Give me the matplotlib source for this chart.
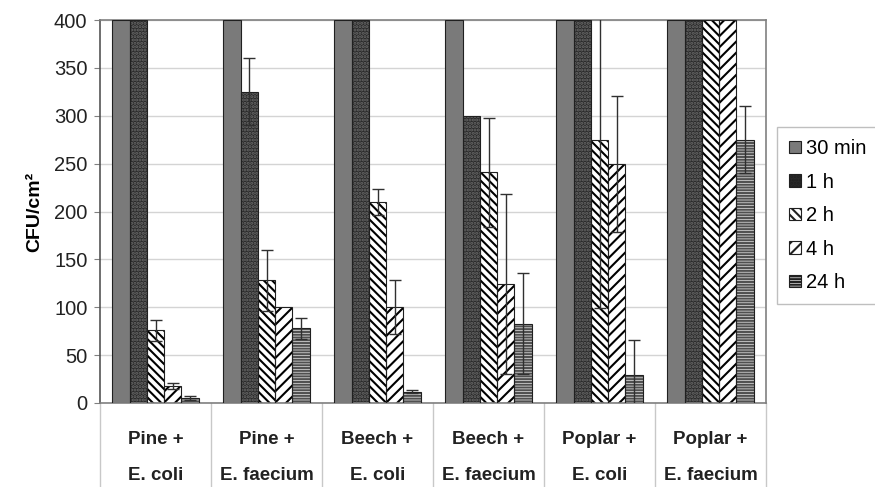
import numpy as np
import matplotlib
matplotlib.use("Agg")
import matplotlib.pyplot as plt
from matplotlib.patches import Patch
from matplotlib.lines import Line2D

plt.rcParams['font.family'] = ['Liberation Sans', 'DejaVu Sans']

categories = ["Pine +\n\nE. coli", "Pine +\n\nE. faecium", "Beech +\n\nE. coli",
              "Beech +\n\nE. faecium", "Poplar +\n\nE. coli", "Poplar +\n\nE. faecium"]
series_names = ["30 min", "1 h", "2 h", "4 h", "24 h"]
v30min = [400, 400, 400, 400, 400, 400]
v1h = [400, 325, 400, 300, 400, 400]
v2h = [76, 128, 210, 241, 275, 400]
v4h = [18, 100, 100, 124, 250, 400]
v24h = [5, 78, 12, 83, 29, 275]
e30min = [0, 0, 0, 0, 0, 0]
e1h = [0, 35, 0, 0, 0, 0]
e2h = [11, 32, 14, 57, 176, 0]
e4h = [3, 0, 28, 94, 71, 0]
e24h = [2, 11, 2, 53, 37, 35]
yticks = [0, 50, 100, 150, 200, 250, 300, 350, 400]

values = [v30min, v1h, v2h, v4h, v24h]
errors = [e30min, e1h, e2h, e4h, e24h]
styles = [
    dict(face='#7a7a7a', hatch=None, hcol='#7a7a7a'),
    dict(face='#2a2a2a', hatch='.....', hcol='#6a6a6a'),
    dict(face='white', hatch='\\\\\\\\', hcol='black'),
    dict(face='white', hatch='///', hcol='black'),
    dict(face='#e8e8e8', hatch='------', hcol='#505050'),
]

fig = plt.figure(figsize=(8.75, 4.87), dpi=100)
ax = fig.add_axes([100/875, 1-403/487, 666/875, 383/487])

n = len(categories)
x = np.arange(n)
bw = 0.156
plt.rcParams['hatch.linewidth'] = 1.5
for i, (vals, errs, st) in enumerate(zip(values, errors, styles)):
    xs = x + (i - 2) * bw
    ax.bar(xs, vals, width=bw, color=st['face'], edgecolor=st['hcol'],
           hatch=st['hatch'], linewidth=0, zorder=2)
    ax.bar(xs, vals, width=bw, fill=False, edgecolor='#202020', linewidth=0.8, zorder=3)
    ex = [xx for xx, e in zip(xs, errs) if e > 0]
    ey = [v for v, e in zip(vals, errs) if e > 0]
    ee = [e for e in errs if e > 0]
    if ex:
        ax.errorbar(ex, ey, yerr=ee, fmt='none', ecolor='#303030', elinewidth=1.0,
                    capsize=4, capthick=1.0, zorder=4)

ax.set_xlim(-0.5, n - 0.5)
ax.set_ylim(0, 400)
ax.set_yticks(yticks)
ax.set_yticklabels([str(t) for t in yticks], fontsize=14.5, color='#222222')
ax.yaxis.grid(True, color='#d4d4d4', linewidth=1.0, zorder=0)
ax.set_axisbelow(True)
ax.tick_params(axis='y', length=4, color='#808080', pad=5)
ax.set_xticks(x)
ax.set_xticklabels(categories, fontsize=13.5, fontweight='bold', color='#222222', linespacing=1.08)
ax.tick_params(axis='x', length=0, pad=20)
for s in ['top', 'right', 'bottom']:
    ax.spines[s].set_color('#808080')
ax.spines['left'].set_color('#555555')
for s in ax.spines.values():
    s.set_linewidth(1.2)

for b in np.arange(n + 1) - 0.5:
    ax.add_line(Line2D([b, b], [0, -0.23], transform=ax.get_xaxis_transform(),
                       color='#c8c8c8', linewidth=1.0, clip_on=False))

ax.set_ylabel("CFU/cm²", fontsize=14, fontweight='bold', labelpad=8)

handles = [Patch(facecolor=st['face'], edgecolor='#202020', hatch=st['hatch'], linewidth=0.8)
           for st in styles]
leg = fig.legend(handles, series_names, loc='upper left', bbox_to_anchor=(777/875, 1-127/487),
                 fontsize=14.5, frameon=True, fancybox=False, edgecolor='#b0b0b0',
                 handlelength=0.6, handleheight=0.6, handletextpad=0.25,
                 labelspacing=0.72, borderpad=0.6, borderaxespad=0)
leg.get_frame().set_linewidth(1.0)

fig.savefig("out.png", dpi=100)
